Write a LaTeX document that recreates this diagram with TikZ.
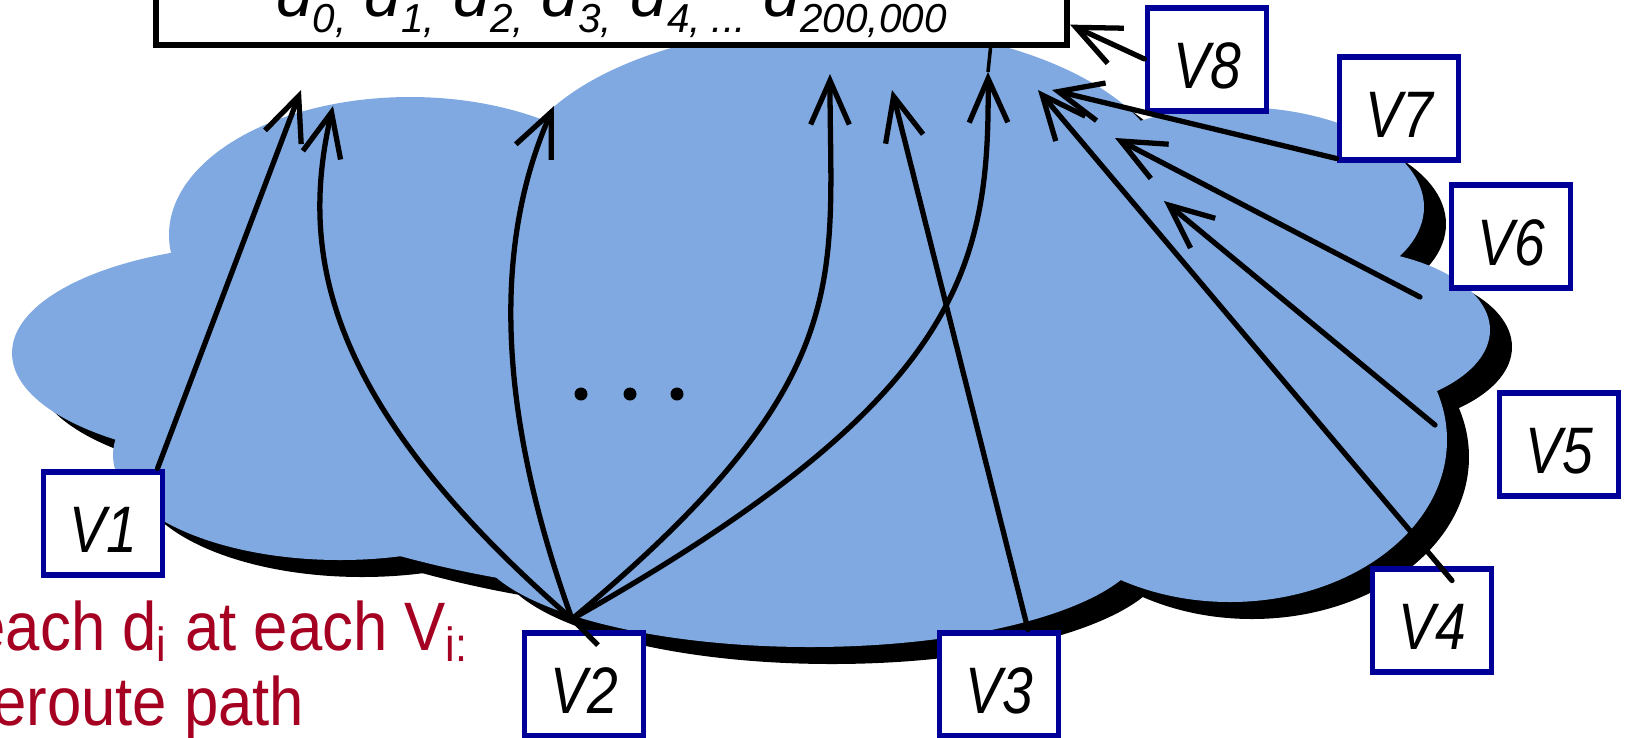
\documentclass[tikz,border=0pt]{standalone}
\usepackage{fontspec}
\setmainfont{Liberation Sans}
\newfontfamily\lblfont[FakeStretch=0.84]{Liberation Sans}
\newfontfamily\notefont[FakeStretch=0.9]{Liberation Sans}
\usetikzlibrary{arrows.meta}
\definecolor{cloudblue}{RGB}{127,169,224}
\definecolor{boxblue}{RGB}{0,0,153}
\definecolor{notered}{RGB}{165,0,33}
\newcommand{\dsub}[1]{\raisebox{-4.5pt}{\fontsize{11.5}{13}\selectfont #1}}
\tikzset{
  vbox/.style    = {draw=boxblue, line width=1.7pt, fill=white,
                    minimum width=11.9mm, minimum height=10.3mm, inner sep=0pt,
                    text height=16.8pt, text depth=0pt,
                    font=\lblfont\itshape\fontsize{18.7}{20}\selectfont},
  databox/.style = {draw, line width=1.7pt, fill=white,
                    minimum width=91.1mm, minimum height=8.3mm, inner sep=0pt,
                    text height=13.6pt, text depth=6pt,
                    font=\itshape\fontsize{18.7}{20}\selectfont},
  note/.style    = {inner sep=0pt, text=notered,
                    font=\notefont\fontsize{19.5}{21.3}\selectfont},
  arr/.style     = {line width=1.5pt, line cap=round,
                    -{Straight Barb[length=12.5pt,width=11pt]}},
  tail/.style    = {line width=1pt}
}

\begin{document}
\begin{tikzpicture}[x=0.1mm, y=-0.1mm]
\useasboundingbox (0,0) rectangle (1628,737);

% cloud: shadow first, then the blue lobes
\begin{scope}[shift={(22,17)}]
  \foreach \cx/\cy/\rx/\ry in {275/353/263/109, 410/235/241/138, 840/188/330/163,
      1236/207/188/100, 1330/330/160/82, 1230/440/217/162, 810/540/335/107,
      340/455/227/105, 760/380/600/220}
    \fill[black] (\cx,\cy) ellipse [x radius=\rx, y radius=\ry];
\end{scope}
\foreach \cx/\cy/\rx/\ry in {275/353/263/109, 410/235/241/138, 840/188/330/163,
    1236/207/188/100, 1330/330/160/82, 1230/440/217/162, 810/540/335/107,
    340/455/227/105, 760/380/600/220}
  \fill[cloudblue] (\cx,\cy) ellipse [x radius=\rx, y radius=\ry];

\foreach \x in {581,630,677} \fill (\x,394) circle [radius=6.5]; % dots

% data items
\node[databox] (data) at (611.5,3.6)
  {d\dsub{0,} d\dsub{1,} d\dsub{2,} d\dsub{3,} d\dsub{4, ...} d\dsub{200,000}};

% the V boxes
\node[vbox] (V1) at (103,523) {V1};
\node[vbox] (V2) at (584,684) {V2};
\node[vbox] (V3) at (999,684) {V3};
\node[vbox] (V4) at (1432,620) {V4};
\node[vbox] (V5) at (1559,444) {V5};
\node[vbox] (V6) at (1511,236) {V6};
\node[vbox] (V7) at (1399,108) {V7};
\node[vbox] (V8) at (1207,59) {V8};

% two lines, baseline of the last one at the anchor
\node[note, anchor=base west] (reroute) at (-29,725)
  {\parbox[b]{60mm}{\raggedright
     each d\textsubscript{i} at each V\textsubscript{i:}\\reroute path}};

\coordinate (hub)   at (572,619);  % where the V2 paths meet
\coordinate (tip1)  at (301,90);
\coordinate (tipA)  at (333,106);
\coordinate (tipB)  at (554,106);
\coordinate (tipC)  at (830,74);
\coordinate (tipD)  at (988,72);
\coordinate (tip3)  at (892,90);
\coordinate (tip4)  at (1038,90);
\coordinate (from5) at (1435,425);
\coordinate (tip5)  at (1164,201);
\coordinate (from6) at (1420,297);
\coordinate (tip6)  at (1115,138);
\coordinate (tip7)  at (1052,90);

\draw[arr] ([xshift=-0.8mm]V1.north east) -- (tip1);
\draw[arr] (hub) .. controls (320,400) and (300,250) .. (tipA);
\draw[arr] (hub) .. controls (500,420) and (490,250) .. (tipB);
\draw[arr] (hub) .. controls (860,380) and (830,280) .. (tipC);
\draw[arr] (hub) .. controls (960,400) and (990,270) .. (tipD);
\draw[line width=1.5pt] ([xshift=1.4mm,yshift=-1.55mm]V2.north) -- (hub);
\draw[tail] (tipD) -- ([xshift=37.9mm]data.south);
\draw[arr] ([xshift=2.9mm]V3.north) -- (tip3);
\draw[arr] ([xshift=2mm,yshift=-1.5mm]V4.north) -- (tip4);
\draw[arr] (from5) -- (tip5);
\draw[arr] (from6) -- (tip6);
\draw[arr] ([yshift=0.4mm]V7.south west) -- (tip7);
\draw[arr] (V8.west) -- ([yshift=-2.1mm]data.east);
\end{tikzpicture}
\end{document}
